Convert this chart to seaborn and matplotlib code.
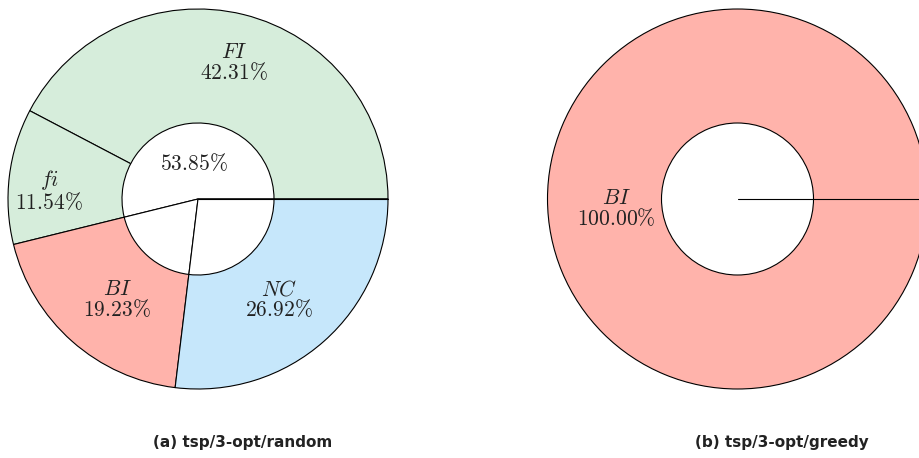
import numpy as np
import matplotlib
matplotlib.use("Agg")
import matplotlib.pyplot as plt
import seaborn as sns

# left donut: tsp/3-opt/random
outer_names = ["FI", "fi", "BI", "NC"]
outer_values = [42.31, 11.54, 19.23, 26.92]
outer_colors = ["#d6eddb", "#d6eddb", "#ffb3ab", "#c6e7fb"]
inner_values = [53.85, 19.23, 26.92]
inner_labels = ["53.85%", "", ""]

# right donut: tsp/3-opt/greedy
right_names = ["BI"]
right_values = [100.00]
right_colors = ["#ffb3ab"]

captions = ["(a) tsp/3-opt/random", "(b) tsp/3-opt/greedy"]

sns.set_theme(style="white")
plt.rcParams["mathtext.fontset"] = "cm"
plt.rcParams["font.family"] = ["DejaVu Sans"]

W, H = 919, 458
R_OUT, R_IN = 190, 76
fig = plt.figure(figsize=(W / 100, H / 100), dpi=100)
ax = fig.add_axes([0, 0, 1, 1])

edge = dict(edgecolor="black", linewidth=0.8)


def donut(center, names, values, colors, inner_vals, inner_labs, label_r):
    ax.pie(values, colors=colors, radius=R_OUT, center=center, startangle=0,
           counterclock=True, wedgeprops=edge)
    ax.pie(inner_vals, colors=["white"] * len(inner_vals), radius=R_IN,
           center=center, startangle=0, counterclock=True, wedgeprops=edge)
    # separator at 0 deg (a full wedge draws none)
    ax.plot([center[0], center[0] + R_OUT], [center[1], center[1]],
            color="black", lw=0.8, zorder=5)
    cum = np.cumsum([0] + list(values))
    for i, (n, v) in enumerate(zip(names, values)):
        mid = np.deg2rad((cum[i] + cum[i + 1]) / 2 * 3.6)
        x = center[0] + label_r[i] * np.cos(mid)
        y = center[1] + label_r[i] * np.sin(mid)
        ax.text(x, y - 9.5, f"${n}$\n${v:.2f}\\%$", ha="center", va="center",
                fontsize=15.5, color="#222222", linespacing=0.95,
                multialignment="center")
    icum = np.cumsum([0] + list(inner_vals))
    for i, lab in enumerate(inner_labs):
        if not lab:
            continue
        mid = np.deg2rad((icum[i] + icum[i + 1]) / 2 * 3.6)
        x = center[0] + 36 * np.cos(mid)
        y = center[1] + 36 * np.sin(mid)
        ax.text(x, y, "$" + lab.replace("%", "\\%") + "$", ha="center", va="center",
                fontsize=15.5, color="#222222")


donut((198, H - 199), outer_names, outer_values, outer_colors,
      inner_values, inner_labels, [150, 150, 122, 122])
donut((737.5, H - 199), right_names, right_values, right_colors,
      [100.0], [""], [121])

ax.set_xlim(0, W)
ax.set_ylim(0, H)
ax.set_aspect("equal")
ax.axis("off")

for cx, cap in zip([243, 782], captions):
    fig.text(cx / W, 1 - 443 / H, cap, ha="center", va="center",
             fontsize=11, fontweight="bold", color="#222222")

fig.savefig("out.png", dpi=100)
